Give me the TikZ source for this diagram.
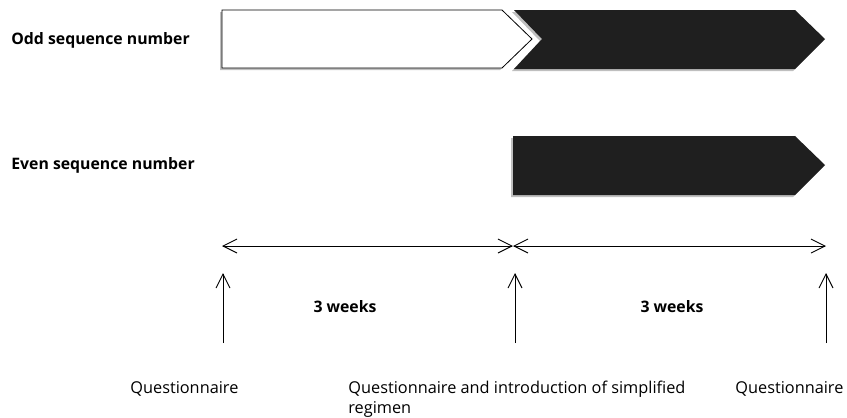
\documentclass[tikz,border=0pt]{standalone}
\usepackage{fontspec}
\setmainfont{Open Sans}
\usetikzlibrary{arrows.meta}
\usetikzlibrary{positioning}

\begin{document}
\begin{tikzpicture}[x=1pt,y=-1pt,>={Straight Barb[length=14pt,width=14pt,line width=0.9pt]},thick]
\tikzstyle{every node}=[font=\fontsize{16.3}{20}\selectfont,inner sep=0pt]
\tikzstyle{group}=[font=\fontsize{15.8}{20}\selectfont\bfseries,anchor=west]
\tikzstyle{event}=[anchor=north west,align=left]
\tikzstyle{shade}=[fill=black!25,draw=none]
\path[use as bounding box] (0,0) rectangle (847,418);
% phases
\fill[shade] (220,12) -- (500,12) -- (530,41) -- (500,70) -- (220,70) -- cycle;
\draw[fill=white,line width=0.8pt] (222,10) -- (502,10) -- (532,39) -- (502,68) -- (222,68) -- cycle;
\fill[shade] (512,12) -- (793,12) -- (823,41) -- (793,71) -- (512,71) -- (540,41) -- cycle;
\fill[black!88] (514,10) -- (795,10) -- (825,39) -- (795,69) -- (514,69) -- (542,39) -- cycle;
\fill[shade] (511,138) -- (793,138) -- (823,167) -- (793,197) -- (511,197) -- cycle;
\fill[black!88] (513,136) -- (795,136) -- (825,165) -- (795,195) -- (513,195) -- cycle;
% groups
\path node[group] (odd) at (11,40) {Odd sequence number};
\path node[group] (even) at (11,165) {Even sequence number};
% time line
\coordinate (t0) at (222,246);
\coordinate (t1) at (513,246);
\coordinate (t2) at (826,246);
\draw[<->,line width=0.9pt] (t0) -- (t1);
\draw[<->,line width=0.9pt] (t1) -- (t2);
\path node[font=\fontsize{15.8}{20}\selectfont\bfseries] (w1) at (345,307) {3 weeks};
\path node[font=\fontsize{15.8}{20}\selectfont\bfseries] (w2) at (672,307) {3 weeks};
% questionnaires
\path node[event] (q0) at (130,381) {Questionnaire};
\path node[event] (q1) at (348,381) {Questionnaire and introduction of simplified\\regimen};
\path node[event] (q2) at (735,381) {Questionnaire};
\coordinate (a0) at (223,343);
\coordinate (a1) at (515,343);
\coordinate (a2) at (826,343);
\foreach \i in {0,1,2}
  \draw[->,line width=0.9pt] (a\i) -- ++(0,-70);
\end{tikzpicture}
\end{document}
